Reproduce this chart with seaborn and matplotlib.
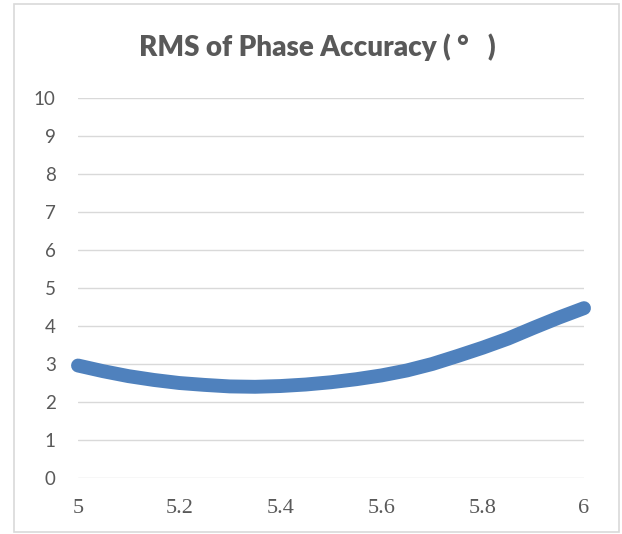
import pandas as pd
import matplotlib.pyplot as plt
import seaborn as sns
from matplotlib.patches import Rectangle

# values
freq = [5.00, 5.05, 5.10, 5.15, 5.20, 5.25, 5.30, 5.35, 5.40, 5.45, 5.50,
        5.55, 5.60, 5.65, 5.70, 5.75, 5.80, 5.85, 5.90, 5.95, 6.00]
rms = [2.96, 2.81, 2.68, 2.58, 2.50, 2.45, 2.41, 2.40, 2.42, 2.46, 2.52,
       2.60, 2.70, 2.83, 3.00, 3.21, 3.43, 3.67, 3.95, 4.22, 4.47]
x_ticks = [5, 5.2, 5.4, 5.6, 5.8, 6]
x_labels = ["5", "5.2", "5.4", "5.6", "5.8", "6"]
y_ticks = list(range(0, 11))

df = pd.DataFrame({"freq": freq, "rms": rms})

sns.set_style("white")
plt.rcParams['font.family'] = ['Lato', 'DejaVu Sans']

fig = plt.figure(figsize=(6.22, 5.34), dpi=100)
ax = fig.add_axes([78 / 622, 1 - 478 / 534, (584 - 78) / 622, (478 - 98) / 534])

sns.lineplot(data=df, x="freq", y="rms", ax=ax, color="#4F81BD",
             linewidth=10, solid_capstyle="round", solid_joinstyle="round",
             clip_on=False)

ax.set_xlim(5, 6)
ax.set_ylim(0, 10)
ax.set_yticks(y_ticks)
ax.set_xticks(x_ticks)
ax.set_xticklabels(x_labels, family="Liberation Serif", fontsize=16, color="#595959")
ax.tick_params(axis="y", labelsize=13.5, labelcolor="#595959", length=0, pad=16)
ax.tick_params(axis="x", length=0, pad=15)
for lab in ax.get_yticklabels():
    lab.set_color("#595959")

ax.grid(axis="y", color="#D9D9D9", linewidth=1.0)
ax.grid(axis="x", visible=False)
ax.set_axisbelow(True)
for s in ax.spines.values():
    s.set_visible(False)
ax.set_xlabel("")
ax.set_ylabel("")

fig.text(317 / 622, 1 - 47 / 534, "RMS of Phase Accuracy ( °   )", ha="center", va="center",
         fontsize=20, fontweight="heavy", color="#595959")

# outer chart border
fig.patches.append(Rectangle((14 / 622, 1 - 532 / 534), (619 - 14) / 622, (532 - 4) / 534,
                             transform=fig.transFigure, fill=False,
                             edgecolor="#D9D9D9", linewidth=1.2))

fig.savefig("out.png", dpi=100)
